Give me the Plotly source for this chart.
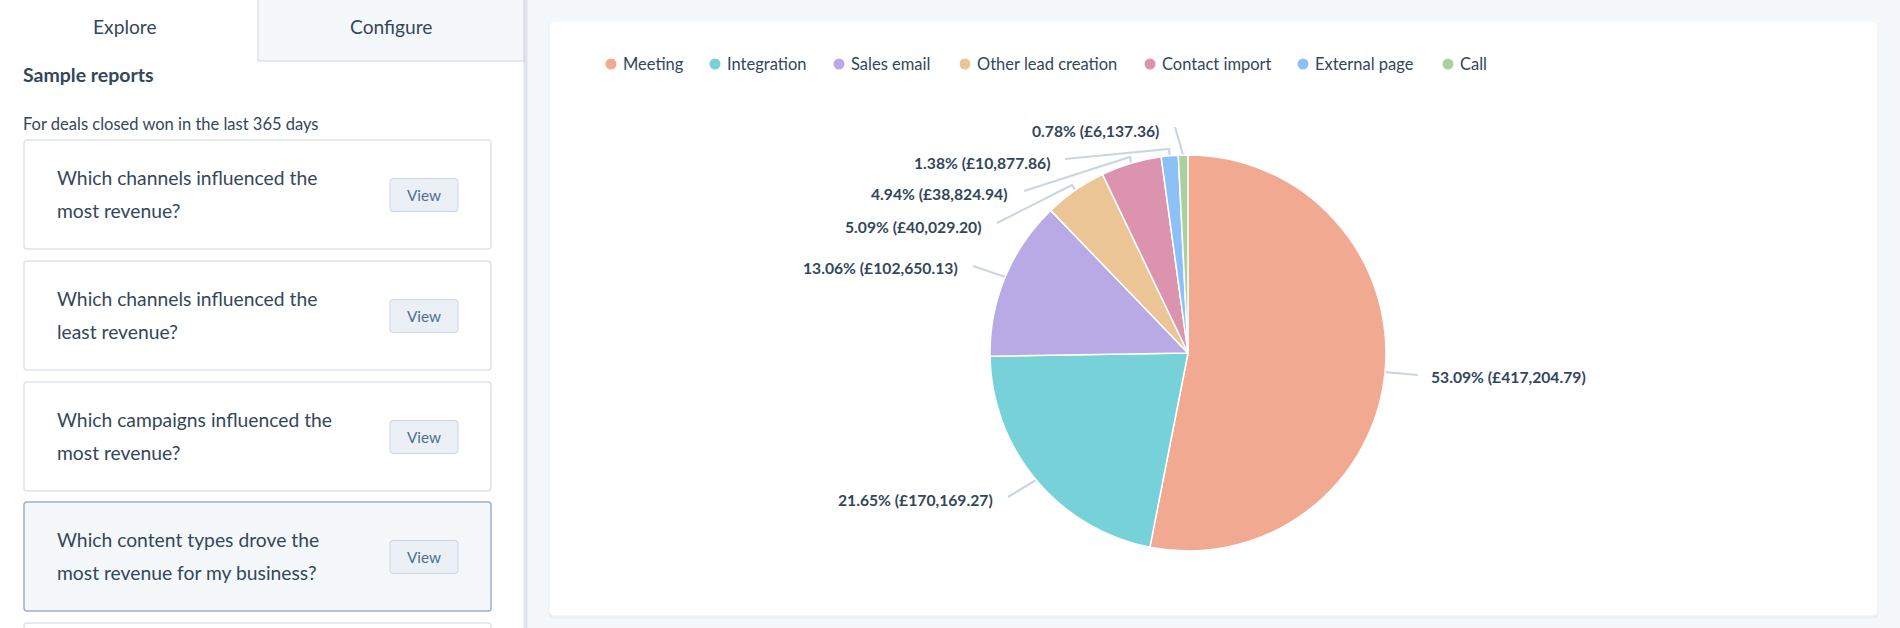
import math

import plotly.graph_objects as go

CHANNELS = [
    "Meeting",
    "Integration",
    "Sales email",
    "Other lead creation",
    "Contact import",
    "External page",
    "Call",
]
REVENUE = [417204.79, 170169.27, 102650.13, 40029.20, 38824.94, 10877.86, 6137.36]
PERCENT = [53.09, 21.65, 13.06, 5.09, 4.94, 1.38, 0.78]
COLORS = ["#f2a992", "#76d1d8", "#b9a9e4", "#ebc595", "#dc93ae", "#8cc0f7", "#acd09c"]

REPORTS = [
    ("Which channels influenced the", "most revenue?"),
    ("Which channels influenced the", "least revenue?"),
    ("Which campaigns influenced the", "most revenue?"),
    ("Which content types drove the", "most revenue for my business?"),
]

WIDTH, HEIGHT = 1900, 628
FONT = "Lato"
INK = "#33475b"
PAGE_BG = "#f5f8fa"
BORDER = "#dfe3eb"
LEADER = "#cbd6e2"

# pie geometry in page pixels
CX, CY, R = 1188, 353, 198

# where each legend dot sits, and the label layout around the pie
LEGEND_X = [611, 715, 839, 965, 1150, 1303, 1448]
CARD_TOPS = [140, 261, 382, 502]
# label anchor x, label y, xanchor, then the outer points of the leader line
LABEL_LAYOUT = [
    (1429, 377, "left", [(1418, 375)]),
    (995, 500, "right", [(1008, 497)]),
    (960, 268, "right", [(973, 266)]),
    (984, 227, "right", [(997, 223), (1072, 185)]),
    (1010, 194, "right", [(1024, 191), (1130, 157)]),
    (1053, 163, "right", [(1065, 159), (1169, 149)]),
    (1161, 131, "right", [(1175, 127)]),
]


def rounded_rect(x0, y0, x1, y1, r=3):
    return (
        f"M {x0 + r} {y0} L {x1 - r} {y0} Q {x1} {y0} {x1} {y0 + r} "
        f"L {x1} {y1 - r} Q {x1} {y1} {x1 - r} {y1} "
        f"L {x0 + r} {y1} Q {x0} {y1} {x0} {y1 - r} "
        f"L {x0} {y0 + r} Q {x0} {y0} {x0 + r} {y0} Z"
    )


def box(x0, y0, x1, y1, fill, line=None, line_width=1, r=3):
    return dict(
        type="path",
        path=rounded_rect(x0, y0, x1, y1, r),
        xref="x",
        yref="y",
        fillcolor=fill,
        line=dict(color=line or fill, width=line_width),
        layer="below",
    )


def text(x, y, s, size, color=INK, anchor="left", weight=None):
    return dict(
        x=x,
        y=y,
        xref="x",
        yref="y",
        text=s,
        showarrow=False,
        xanchor=anchor,
        yanchor="middle",
        font=dict(family=FONT, size=size, color=color, weight=weight),
    )


def slice_anchor(i):
    # middle of the slice, clockwise from twelve o'clock like the pie
    total = sum(REVENUE)
    before = sum(REVENUE[:i])
    angle = 2 * math.pi * (before + REVENUE[i] / 2) / total
    return CX + R * math.sin(angle), CY - R * math.cos(angle)


shapes = []
annotations = []

# left panel and tabs
shapes.append(box(0, 0, 524, HEIGHT + 4, "#ffffff", r=0))
shapes.append(box(524, 0, 527, HEIGHT + 4, BORDER, r=0))
shapes.append(box(258, -4, 524, 61, PAGE_BG, LEADER, r=0))
annotations.append(text(125, 26.5, "Explore", 19.2, anchor="center"))
annotations.append(text(391, 26.5, "Configure", 19.2, anchor="center"))
annotations.append(text(21, 74, "Sample reports", 19.5, weight=700))
annotations.append(text(21, 123.5, "For deals closed won in the last 365 days", 16.5))

# report cards
for i, (top, lines) in enumerate(zip(CARD_TOPS, REPORTS)):
    selected = i == 3
    shapes.append(
        box(
            24,
            top,
            491,
            top + 109,
            PAGE_BG if selected else "#ffffff",
            "#9fb0c6" if selected else BORDER,
            1.5,
        )
    )
    annotations.append(text(55, top + 37.5, lines[0], 19.3))
    annotations.append(text(55, top + 70, lines[1], 19.3))
    shapes.append(box(390, top + 38.5, 458, top + 71.5, "#eaf0f6", LEADER, 1))
    annotations.append(text(424, top + 54.5, "View", 15.3, "#506e91", "center"))
# next card peeks in at the bottom of the page
shapes.append(box(24, 623, 491, 660, "#ffffff", BORDER, 1.5))

# chart card with a soft shadow under it
shapes.append(box(549, 22, 1878, 618, "#ebeef3", r=4))
shapes.append(box(550, 22, 1877, 615, "#ffffff", r=4))

# legend labels
for x, name in zip(LEGEND_X, CHANNELS):
    annotations.append(text(x + 9.5, 64, name, 16.5))

# leader lines and value labels
for i, (x, y, anchor, points) in enumerate(LABEL_LAYOUT):
    annotations.append(
        text(x, y, f"{PERCENT[i]:.2f}% (£{REVENUE[i]:,.2f})", 15.7, anchor=anchor, weight=700)
    )
    ax, ay = slice_anchor(i)
    path = " ".join(f"{'L' if n else 'M'} {px} {py}" for n, (px, py) in enumerate(points))
    path += f" L {ax:.1f} {ay:.1f}"
    shapes.append(
        dict(
            type="path",
            path=path,
            xref="x",
            yref="y",
            line=dict(color=LEADER, width=2.2),
            layer="below",
        )
    )

fig = go.Figure()
fig.add_trace(
    go.Pie(
        labels=CHANNELS,
        values=REVENUE,
        sort=False,
        direction="clockwise",
        rotation=0,
        textinfo="none",
        marker=dict(colors=COLORS, line=dict(color="#ffffff", width=1.5)),
        domain=dict(
            x=[(CX - R) / WIDTH, (CX + R) / WIDTH],
            y=[1 - (CY + R) / HEIGHT, 1 - (CY - R) / HEIGHT],
        ),
        showlegend=False,
    )
)
# legend dots
fig.add_trace(
    go.Scatter(
        x=LEGEND_X,
        y=[64] * len(LEGEND_X),
        mode="markers",
        marker=dict(color=COLORS, size=11),
        hoverinfo="skip",
        showlegend=False,
    )
)
fig.update_layout(
    width=WIDTH,
    height=HEIGHT,
    margin=dict(l=0, r=0, t=0, b=0),
    paper_bgcolor=PAGE_BG,
    plot_bgcolor="rgba(0,0,0,0)",
    xaxis=dict(range=[0, WIDTH], visible=False, fixedrange=True),
    yaxis=dict(range=[HEIGHT, 0], visible=False, fixedrange=True),
    shapes=shapes,
    annotations=annotations,
    font=dict(family=FONT, color=INK),
)

fig.write_html(
    "out.html",
    config=dict(displayModeBar=False),
    post_script="document.body.style.margin='0';document.body.style.overflow='hidden';",
)
